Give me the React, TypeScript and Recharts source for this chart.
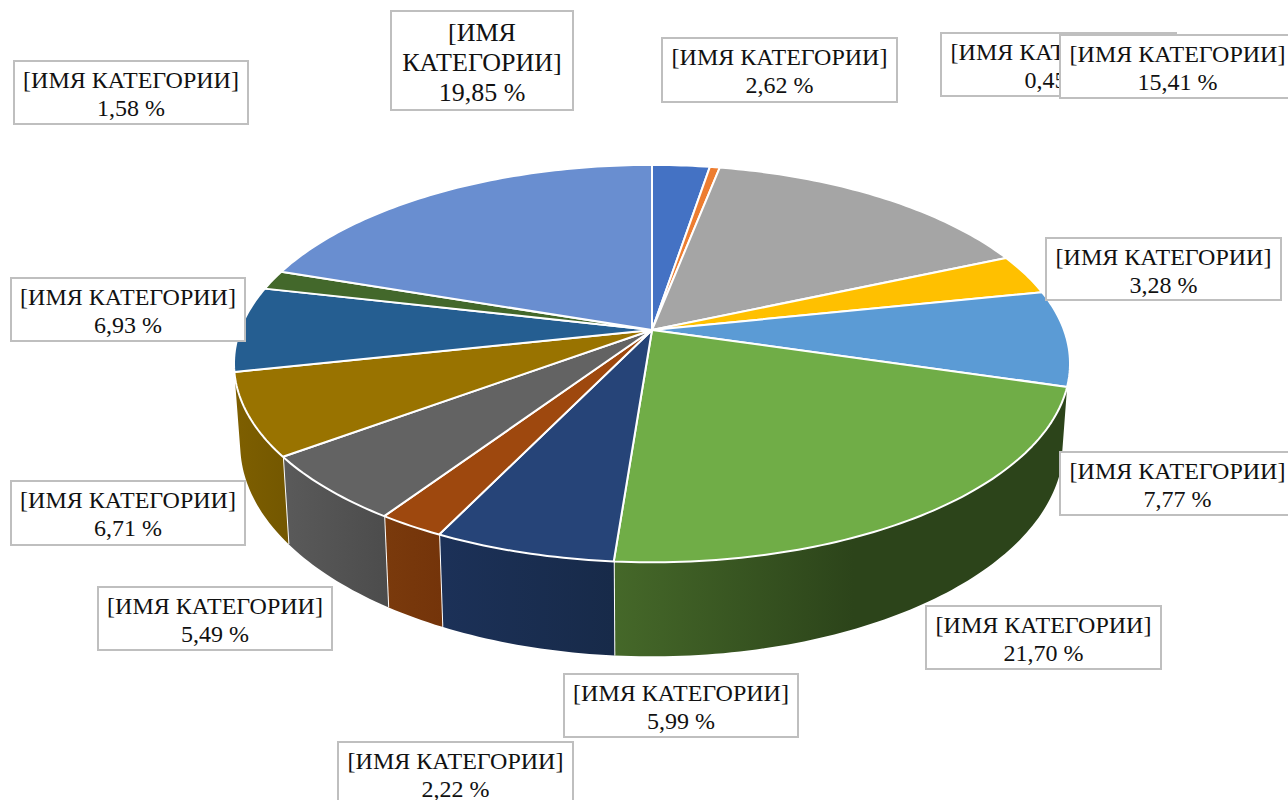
import { PieChart, Pie } from "recharts";

const categories = [
  "[ИМЯ КАТЕГОРИИ]", "[ИМЯ КАТЕГОРИИ]", "[ИМЯ КАТЕГОРИИ]", "[ИМЯ КАТЕГОРИИ]", "[ИМЯ КАТЕГОРИИ]",
  "[ИМЯ КАТЕГОРИИ]", "[ИМЯ КАТЕГОРИИ]", "[ИМЯ КАТЕГОРИИ]", "[ИМЯ КАТЕГОРИИ]", "[ИМЯ КАТЕГОРИИ]",
  "[ИМЯ КАТЕГОРИИ]", "[ИМЯ КАТЕГОРИИ]", "[ИМЯ КАТЕГОРИИ]",
];
const shares = [2.62, 0.45, 15.41, 3.28, 7.77, 21.7, 5.99, 2.22, 5.49, 6.71, 6.93, 1.58, 19.85];
const colors = [
  "#4472C4", "#ED7D31", "#A5A5A5", "#FFC000", "#5B9BD5", "#70AD47", "#264478",
  "#9E480E", "#636363", "#997300", "#255E91", "#43682B", "#698ED0",
];

const data = categories.map((name, i) => ({ name, value: shares[i], fill: colors[i] }));

// label boxes [x, y, w, h], in slice order
const BOXES = [
  [662, 38, 235, 64], [941, 33, 235, 63], [1060, 35, 235, 63], [1046, 238, 235, 62],
  [1060, 452, 235, 63], [926, 606, 235, 63], [564, 674, 234, 63], [338, 742, 235, 64],
  [98, 587, 234, 63], [11, 481, 234, 64], [11, 278, 234, 63], [14, 61, 234, 63], [391, 11, 182, 99],
];

// side wall colours [left, right] for the slices that show a wall
const WALLS: Record<number, string[]> = {
  5: ["#456829", "#2C441A"],
  6: ["#1C3158", "#172A49"],
  7: ["#7A3A0C", "#74340A"],
  8: ["#5A5A5A", "#4C4C4C"],
  9: ["#7E5F00", "#735700"],
};

const CX = 652;
const CY = 330;
const RX = 412;
const RY = 193;
const PERSP = 0.169;

// perspective view of a point on the rim, theta clockwise from the top
function rim(theta: number) {
  const t = (theta * Math.PI) / 180;
  const d = 1 + PERSP * Math.cos(t);
  return [CX + (RX * Math.sin(t)) / d, CY - (RY * Math.cos(t)) / d];
}

function lower(p: number[]) {
  return [CX + (p[0] - CX) * 0.985, p[1] + 79 + 0.065 * (p[1] - CY)];
}

function arc(a: number, b: number) {
  const pts = [];
  const n = Math.max(2, Math.ceil(Math.abs(b - a)));
  for (let i = 0; i <= n; i++) pts.push(rim(a + ((b - a) * i) / n));
  return pts;
}

const toPath = (pts: number[][]) =>
  pts.map((p, i) => `${i ? "L" : "M"}${p[0].toFixed(2)},${p[1].toFixed(2)}`).join(" ");

function Slice3D(props: any) {
  const { startAngle, endAngle, fill, index } = props;
  const pts = arc(90 - startAngle, 90 - endAngle);
  const wall = WALLS[index];
  let side = null;
  if (wall) {
    const low = pts.map(lower);
    const xs = pts.concat(low).map((p) => p[0]);
    const x2 = Math.max(...xs);
    const x1 = Math.min(...xs);
    const id = `wall-${index}`;
    const last = low[low.length - 1];
    const lastTop = pts[pts.length - 1];
    side = (
      <g>
        <linearGradient id={id} gradientUnits="userSpaceOnUse" x1={x1} x2={Math.min(x2, x1 + 240)} y1="0" y2="0">
          <stop offset="0" stopColor={wall[0]} />
          <stop offset="1" stopColor={wall[1]} />
        </linearGradient>
        <path d={toPath(pts.concat([...low].reverse())) + " Z"} fill={`url(#${id})`} />
        {index !== 9 && (
          <line x1={lastTop[0]} y1={lastTop[1]} x2={last[0]} y2={last[1]} stroke="#fff" strokeWidth={2} />
        )}
      </g>
    );
  }
  return (
    <g>
      {side}
      <path
        d={`M${CX},${CY} ` + toPath(pts).replace("M", "L") + " Z"}
        fill={fill}
        stroke="#fff"
        strokeWidth={2}
        strokeLinejoin="round"
      />
    </g>
  );
}

function BoxLabel(props: any) {
  const { index, name, value } = props;
  const [x, y, w, h] = BOXES[index];
  // the one narrow box wraps its name and uses a larger size
  const narrow = w < 200;
  const lines = narrow ? name.split(" ") : [name];
  lines.push(value.toFixed(2).replace(".", ",") + " %");
  return (
    <g>
      <rect x={x} y={y} width={w} height={h} fill="#fff" stroke="#BFBFBF" strokeWidth={2} />
      {lines.map((l: string, i: number) => (
        <text
          key={i}
          x={x + w / 2}
          y={y + (narrow ? 30 + i * 30 : 27 + i * 28)}
          textAnchor="middle"
          fontFamily="'Liberation Serif', serif"
          fontSize={narrow ? 26 : 24}
          fill="#111"
        >
          {l}
        </text>
      ))}
    </g>
  );
}

export default function App() {
  return (
    <div style={{ position: "absolute", left: 0, top: 0, width: 1288, height: 800, overflow: "hidden", background: "#fff" }}>
      <PieChart width={1288} height={800} margin={{ top: 0, right: 0, bottom: 0, left: 0 }}>
        <Pie
          data={data}
          dataKey="value"
          nameKey="name"
          cx={CX}
          cy={CY}
          outerRadius={RX}
          startAngle={90}
          endAngle={-270}
          isAnimationActive={false}
          shape={Slice3D}
          label={BoxLabel}
          labelLine={false}
        />
      </PieChart>
    </div>
  );
}
